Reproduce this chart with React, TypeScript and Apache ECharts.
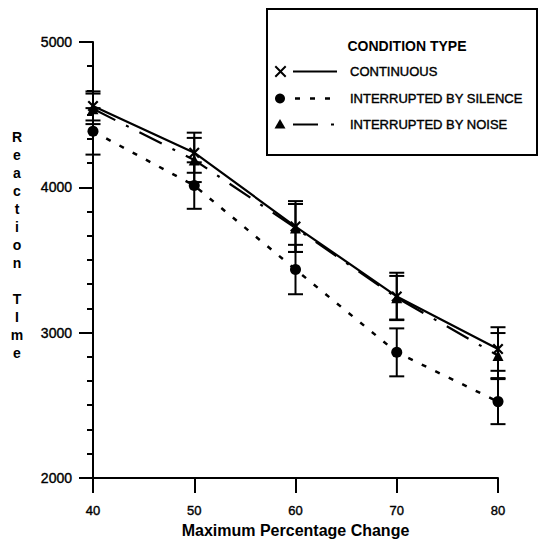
import React, { useEffect, useRef } from "react";
import * as echarts from "echarts";

const xValues = [40, 50, 60, 70, 80];
const continuousRT = [4560, 4238, 3730, 3249, 2887];
const continuousErr = [100, 138, 175, 163, 150];
const silenceRT = [4385, 4012, 3434, 2864, 2525];
const silenceErr = [160, 160, 170, 165, 155];
const noiseRT = [4540, 4188, 3720, 3240, 2842];
const noiseErr = [105, 152, 165, 150, 155];

const seriesNames = ["CONTINUOUS", "INTERRUPTED BY SILENCE", "INTERRUPTED BY NOISE"];
const legendTitle = "CONDITION TYPE";
const xTitle = "Maximum Percentage Change";
const yTitleLetters = ["R", "e", "a", "c", "t", "i", "o", "n", "", "T", "I", "m", "e"];

const FONT = "'Liberation Sans', Arial, Helvetica, sans-serif";
const X_PATH =
  "path://M1.4,0 L5,3.6 L8.6,0 L10,1.4 L6.4,5 L10,8.6 L8.6,10 L5,6.4 L1.4,10 L0,8.6 L3.6,5 L0,1.4 Z";

function pairs(ys: number[]) {
  return xValues.map((x, i) => [x, ys[i]]);
}
function errData(ys: number[], es: number[]) {
  return xValues.map((x, i) => [x, ys[i] - es[i], ys[i] + es[i]]);
}

function errorSeries(ys: number[], es: number[]) {
  return {
    type: "custom",
    data: errData(ys, es),
    encode: { x: 0, y: [1, 2] },
    clip: false,
    z: 3,
    renderItem: (params: any, api: any) => {
      const x = api.value(0);
      const lo = api.coord([x, api.value(1)]);
      const hi = api.coord([x, api.value(2)]);
      const hw = 7.5;
      const st = { stroke: "#000", lineWidth: 2 };
      return {
        type: "group",
        children: [
          { type: "line", shape: { x1: lo[0], y1: lo[1], x2: hi[0], y2: hi[1] }, style: st },
          { type: "line", shape: { x1: lo[0] - hw, y1: lo[1], x2: lo[0] + hw, y2: lo[1] }, style: st },
          { type: "line", shape: { x1: hi[0] - hw, y1: hi[1], x2: hi[0] + hw, y2: hi[1] }, style: st },
        ],
      };
    },
  };
}

export default function App() {
  const ref = useRef<HTMLDivElement>(null);
  useEffect(() => {
    if (!ref.current) return;
    const chart = echarts.init(ref.current, null, { renderer: "svg" });
    const lx = 267, ly = 9;
    const rowY = [71.5, 98.5, 124.5];
    const heavy = { textBorderColor: "#000", textBorderWidth: 0.4 };
    const option: any = {
      animation: false,
      backgroundColor: "#fff",
      grid: { left: 93, right: 46, top: 42, bottom: 59 },
      xAxis: {
        type: "value",
        min: 40,
        max: 80,
        interval: 10,
        name: xTitle,
        nameLocation: "middle",
        nameGap: 43,
        nameTextStyle: { fontFamily: FONT, fontSize: 16, fontWeight: "bold", color: "#000" },
        axisLine: { show: true, lineStyle: { color: "#000", width: 2 } },
        axisTick: { show: true, length: 15, lineStyle: { color: "#000", width: 2 } },
        axisLabel: { margin: 26, fontFamily: FONT, fontSize: 13, color: "#000", ...heavy },
        splitLine: { show: false },
      },
      yAxis: {
        type: "value",
        min: 2000,
        max: 5000,
        interval: 1000,
        axisLine: { show: true, lineStyle: { color: "#000", width: 2 } },
        axisTick: { show: true, length: 14, lineStyle: { color: "#000", width: 2 } },
        minorTick: { show: true, splitNumber: 6, length: 6, lineStyle: { color: "#000", width: 2 } },
        axisLabel: {
          margin: 21,
          fontFamily: FONT,
          fontSize: 14,
          color: "#000",
          formatter: (v: number) => String(v),
          ...heavy,
        },
        splitLine: { show: false },
        minorSplitLine: { show: false },
      },
      series: [
        errorSeries(continuousRT, continuousErr),
        errorSeries(silenceRT, silenceErr),
        errorSeries(noiseRT, noiseErr),
        {
          name: seriesNames[0],
          type: "line",
          data: pairs(continuousRT),
          symbol: X_PATH,
          symbolSize: 11,
          itemStyle: { color: "#000" },
          lineStyle: { color: "#000", width: 2.2, type: "solid" },
          z: 4,
        },
        {
          name: seriesNames[1],
          type: "line",
          data: pairs(silenceRT),
          symbol: "circle",
          symbolSize: 11,
          itemStyle: { color: "#000" },
          lineStyle: { color: "#000", width: 2.5, type: [5, 10] },
          z: 4,
        },
        {
          name: seriesNames[2],
          type: "line",
          data: pairs(noiseRT),
          symbol: "triangle",
          symbolSize: 11,
          itemStyle: { color: "#000" },
          lineStyle: { color: "#000", width: 2.2, type: [25, 12, 3, 12] },
          z: 4,
        },
      ],
      graphic: [
        {
          type: "text",
          x: 17,
          y: 128,
          style: {
            text: yTitleLetters.join("\n"),
            fontFamily: FONT,
            fontSize: 14,
            fontWeight: "bold",
            lineHeight: 18,
            fill: "#000",
            align: "center",
          },
        },
        {
          type: "rect",
          shape: { x: lx, y: ly, width: 270, height: 146 },
          style: { fill: "#fff", stroke: "#000", lineWidth: 2 },
          z: 10,
        },
        {
          type: "text",
          x: 407,
          y: 46,
          style: {
            text: legendTitle,
            fontFamily: FONT,
            fontSize: 14,
            fontWeight: "bold",
            fill: "#000",
            align: "center",
            verticalAlign: "middle",
          },
          z: 11,
        },
        {
          type: "polygon",
          shape: {
            points: [
              [276, 66.5], [280.5, 71], [285, 66.5], [286.4, 67.9], [281.9, 72.4], [286.4, 76.9],
              [285, 78.3], [280.5, 73.8], [276, 78.3], [274.6, 76.9], [279.1, 72.4], [274.6, 67.9],
            ].map((p) => [p[0], p[1] - 0.9]),
          },
          style: { fill: "#000" },
          z: 11,
        },
        {
          type: "line",
          shape: { x1: 293, y1: rowY[0], x2: 337, y2: rowY[0] },
          style: { stroke: "#000", lineWidth: 2 },
          z: 11,
        },
        { type: "circle", shape: { cx: 280, cy: rowY[1], r: 5 }, style: { fill: "#000" }, z: 11 },
        {
          type: "line",
          shape: { x1: 295, y1: rowY[1], x2: 340, y2: rowY[1] },
          style: { stroke: "#000", lineWidth: 2.5, lineDash: [5, 10] },
          z: 11,
        },
        {
          type: "polygon",
          shape: { points: [[280, rowY[2] - 5.5], [285.5, rowY[2] + 4], [274.5, rowY[2] + 4]] },
          style: { fill: "#000" },
          z: 11,
        },
        {
          type: "line",
          shape: { x1: 293, y1: rowY[2], x2: 318, y2: rowY[2] },
          style: { stroke: "#000", lineWidth: 2 },
          z: 11,
        },
        {
          type: "line",
          shape: { x1: 331, y1: rowY[2], x2: 334, y2: rowY[2] },
          style: { stroke: "#000", lineWidth: 2 },
          z: 11,
        },
        ...seriesNames.map((name, i) => ({
          type: "text",
          x: 350,
          y: rowY[i],
          style: {
            text: name,
            fontFamily: FONT,
            fontSize: 13,
            fill: "#000",
            stroke: "#000",
            lineWidth: 0.4,
            align: "left",
            verticalAlign: "middle",
          },
          z: 11,
        })),
      ],
    };
    chart.setOption(option);
    return () => chart.dispose();
  }, []);
  return (
    <div
      ref={ref}
      style={{ position: "fixed", left: 0, top: 0, width: 544, height: 543, background: "#fff" }}
    />
  );
}
